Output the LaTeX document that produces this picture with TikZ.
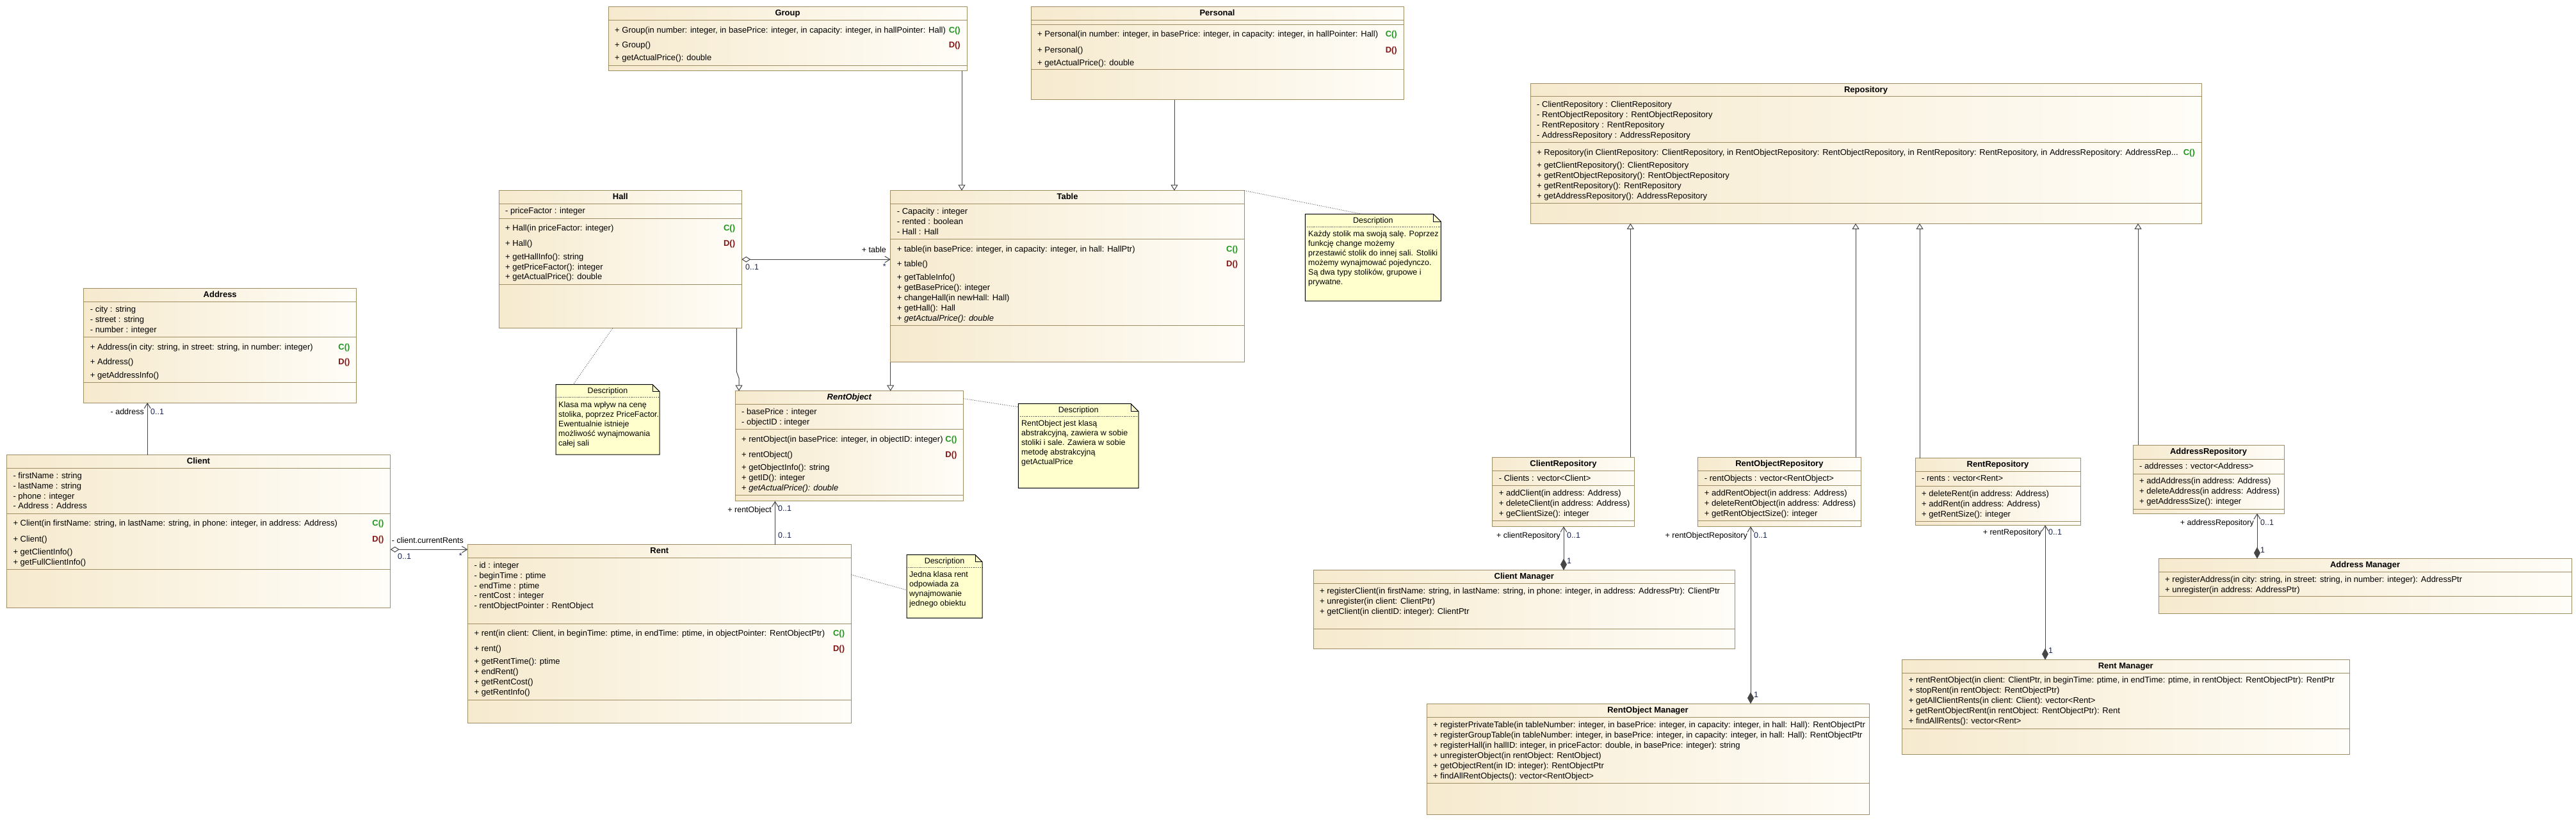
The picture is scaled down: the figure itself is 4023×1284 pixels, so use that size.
\documentclass[tikz,border=0pt]{standalone}
\usepackage{fontspec}
\setmainfont{Liberation Sans}
\usepackage{tikz}
\usetikzlibrary{arrows.meta}

\definecolor{umlborder}{RGB}{158,140,98}
\definecolor{umltan}{RGB}{246,234,206}
\definecolor{umlwhite}{RGB}{255,253,248}
\definecolor{notefill}{RGB}{255,255,206}
\definecolor{ctorgreen}{RGB}{30,150,30}
\definecolor{dtorred}{RGB}{130,20,20}
\definecolor{linegray}{RGB}{70,70,70}
\definecolor{multblue}{RGB}{25,35,75}

\tikzset{
  classbox/.style={draw=umlborder, line width=1pt, left color=umltan, right color=umlwhite, anchor=north west, inner sep=0pt, outer sep=0pt},
  sepline/.style={draw=umlborder, line width=1pt},
  ctitle/.style={inner sep=0pt, font=\bfseries\fontsize{13}{15}\selectfont, text height=9.5pt, text depth=2.5pt},
  member/.style={anchor=west, inner sep=0pt, font=\fontsize{13}{15}\selectfont, text height=9.5pt, text depth=2.5pt},
  ctor/.style={anchor=east, inner sep=0pt, font=\bfseries\fontsize{13}{15}\selectfont, text height=9.5pt, text depth=2.5pt, text=ctorgreen},
  dtor/.style={ctor, text=dtorred},
  notebox/.style={anchor=north west, inner sep=0pt, outer sep=0pt},
  notepath/.style={draw=black, fill=notefill, line width=1pt},
  notesep/.style={draw=black, dotted, line width=0.8pt},
  notetext/.style={anchor=west, inner sep=0pt, font=\fontsize{12.5}{14}\selectfont, text height=9pt, text depth=2.5pt},
  noteconn/.style={draw=linegray, dotted, line width=0.9pt},
  lbl/.style={inner sep=0pt, font=\fontsize{12.5}{14}\selectfont, text height=9pt, text depth=2.5pt},
  mult/.style={lbl, text=multblue},
  conn/.style={draw=linegray, line width=1pt},
  gen/.style={conn, -{Triangle[open, length=9pt, width=11pt, fill=white]}},
  assoc/.style={conn, -{Straight Barb[length=8pt, width=10pt]}},
  agg/.style={conn, {Diamond[open, length=14pt, width=9pt, fill=white]}-{Straight Barb[length=8pt, width=10pt]}},
  comp/.style={conn, {Diamond[length=18pt, width=10pt, fill=linegray]}-{Straight Barb[length=8pt, width=10pt]}},
}

\begin{document}
\begin{tikzpicture}[x=1pt, y=-1pt]
\fill[white] (0,0) rectangle (4023,1284);
\useasboundingbox (0,0) rectangle (4023,1284);

% Group
\node[classbox, minimum width=560, minimum height=100] (group) at (950,11) {};
\node[ctitle] (group-t) at ([yshift=-10.5pt]group.north) {Group};
\foreach \yy in {32,102.7} \draw[sepline] (950,\yy) -- (1510,\yy);
\node[member] (group-m1) at (960,47.7) {+ Group(in number: integer, in basePrice: integer, in capacity: integer, in hallPointer: Hall)};
\node[ctor] (group-c) at (1500,47.7) {C()};
\node[member] (group-m2) at (960,71) {+ Group()};
\node[dtor] (group-d) at (1500,71) {D()};
\node[member] (group-m3) at (960,91) {+ getActualPrice(): double};

% Personal
\node[classbox, minimum width=582, minimum height=145.7] (personal) at (1610,10.3) {};
\node[ctitle] (personal-t) at ([yshift=-10.5pt]personal.north) {Personal};
\foreach \yy in {31.7,38.3,109} \draw[sepline] (1610,\yy) -- (2192,\yy);
\node[member] (personal-m1) at (1620,54.3) {+ Personal(in number: integer, in basePrice: integer, in capacity: integer, in hallPointer: Hall)};
\node[ctor] (personal-c) at (2182,54.3) {C()};
\node[member] (personal-m2) at (1620,79) {+ Personal()};
\node[dtor] (personal-d) at (2182,79) {D()};
\node[member] (personal-m3) at (1620,98.7) {+ getActualPrice(): double};

% Repository
\node[classbox, minimum width=1048, minimum height=218.3] (repo) at (2390,130.7) {};
\node[ctitle] (repo-t) at ([yshift=-10.5pt]repo.north) {Repository};
\foreach \yy in {151,222.3,317.3} \draw[sepline] (2390,\yy) -- (3438,\yy);
\foreach \txt [count=\row from 0] in {{- ClientRepository : ClientRepository},{- RentObjectRepository : RentObjectRepository},{- RentRepository : RentRepository},{- AddressRepository : AddressRepository}}
  \node[member] (repo-a\row) at (2400,164.3+16*\row) {\txt};
\node[member] (repo-m0) at (2400,239.3) {+ Repository(in ClientRepository: ClientRepository, in RentObjectRepository: RentObjectRepository, in RentRepository: RentRepository, in AddressRepository: AddressRep...};
\node[ctor] (repo-c) at (3428,239.3) {C()};
\foreach \txt [count=\row from 1] in {{+ getClientRepository(): ClientRepository},{+ getRentObjectRepository(): RentObjectRepository},{+ getRentRepository(): RentRepository},{+ getAddressRepository(): AddressRepository}}
  \node[member] (repo-m\row) at (2400,243+16*\row) {\txt};

% Hall
\node[classbox, minimum width=379, minimum height=215] (hall) at (779.3,297.7) {};
\node[ctitle] (hall-t) at ([yshift=-10.5pt]hall.north) {Hall};
\foreach \yy in {318.3,341.7,444} \draw[sepline] (779.3,\yy) -- (1158.3,\yy);
\node[member] (hall-a0) at (789,330.3) {- priceFactor : integer};
\node[member] (hall-m0) at (789,357) {+ Hall(in priceFactor: integer)};
\node[ctor] (hall-c) at (1148.3,357) {C()};
\node[member] (hall-m1) at (789,381.3) {+ Hall()};
\node[dtor] (hall-d) at (1148.3,381.3) {D()};
\foreach \txt [count=\row from 2] in {{+ getHallInfo(): string},{+ getPriceFactor(): integer},{+ getActualPrice(): double}}
  \node[member] (hall-m\row) at (789,370.5+15.7*\row) {\txt};

% Table
\node[classbox, minimum width=552.7, minimum height=268] (table) at (1390.7,297.7) {};
\node[ctitle] (table-t) at ([yshift=-10.5pt]table.north) {Table};
\foreach \yy in {318.3,373.7,508.3} \draw[sepline] (1390.7,\yy) -- (1943.4,\yy);
\foreach \txt [count=\row from 0] in {{- Capacity : integer},{- rented : boolean},{- Hall : Hall}}
  \node[member] (table-a\row) at (1400.7,330.7+16*\row) {\txt};
\node[member] (table-m0) at (1400.7,390) {+ table(in basePrice: integer, in capacity: integer, in hall: HallPtr)};
\node[ctor] (table-c) at (1933.4,390) {C()};
\node[member] (table-m1) at (1400.7,413.3) {+ table()};
\node[dtor] (table-d) at (1933.4,413.3) {D()};
\foreach \txt [count=\row from 2] in {{+ getTableInfo()},{+ getBasePrice(): integer},{+ changeHall(in newHall: Hall)},{+ getHall(): Hall},{+ \textit{getActualPrice(): double}}}
  \node[member] (table-m\row) at (1400.7,401.7+16*\row) {\txt};

% Table note
\node[notebox, minimum width=212.1, minimum height=135.7] (tnote) at (2038.3,334.3) {};
\draw[notepath] (tnote.north west) -- ([xshift=-12pt]tnote.north east) -- ([yshift=-12pt]tnote.north east) -- (tnote.south east) -- (tnote.south west) -- cycle;
\draw[notepath, fill=none] ([xshift=-12pt]tnote.north east) |- ([yshift=-12pt]tnote.north east);
\node[lbl] (tnote-t) at ([yshift=-10.5pt]tnote.north) {Description};
\draw[notesep] (2038.3,354.3) -- (2250.4,354.3);
\foreach \txt [count=\row from 0] in {{Każdy stolik ma swoją salę. Poprzez},{funkcję change możemy},{przestawić stolik do innej sali. Stoliki},{możemy wynajmować pojedynczo.},{Są dwa typy stolików, grupowe i},{prywatne.}}
  \node[notetext] (tnote-l\row) at (2043,366.7+15*\row) {\txt};

% Address
\node[classbox, minimum width=426, minimum height=178.3] (address) at (130.7,450.7) {};
\node[ctitle] (address-t) at ([yshift=-10.5pt]address.north) {Address};
\foreach \yy in {471.7,526.7,597.3} \draw[sepline] (130.7,\yy) -- (556.7,\yy);
\foreach \txt [count=\row from 0] in {{- city : string},{- street : string},{- number : integer}}
  \node[member] (address-a\row) at (140.7,484+16*\row) {\txt};
\node[member] (address-m0) at (140.7,543) {+ Address(in city: string, in street: string, in number: integer)};
\node[ctor] (address-c) at (546.7,543) {C()};
\node[member] (address-m1) at (140.7,566.3) {+ Address()};
\node[dtor] (address-d) at (546.7,566.3) {D()};
\node[member] (address-m2) at (140.7,587.3) {+ getAddressInfo()};

% Client
\node[classbox, minimum width=599.4, minimum height=238.3] (client) at (10.3,710.7) {};
\node[ctitle] (client-t) at ([yshift=-10.5pt]client.north) {Client};
\foreach \yy in {731.7,802.3,889.3} \draw[sepline] (10.3,\yy) -- (609.7,\yy);
\foreach \txt [count=\row from 0] in {{- firstName : string},{- lastName : string},{- phone : integer},{- Address : Address}}
  \node[member] (client-a\row) at (20.3,743.7+15.9*\row) {\txt};
\node[member] (client-m0) at (20.3,818.3) {+ Client(in firstName: string, in lastName: string, in phone: integer, in address: Address)};
\node[ctor] (client-c) at (599.7,818.3) {C()};
\node[member] (client-m1) at (20.3,842.7) {+ Client()};
\node[dtor] (client-d) at (599.7,842.7) {D()};
\foreach \txt [count=\row from 2] in {{+ getClientInfo()},{+ getFullClientInfo()}}
  \node[member] (client-m\row) at (20.3,831+16*\row) {\txt};

% RentObject
\node[classbox, minimum width=356.7, minimum height=172] (robj) at (1148,610.7) {};
\node[ctitle] (robj-t) at ([yshift=-10.5pt]robj.north) {\itshape RentObject};
\foreach \yy in {631.7,670.7,773.3} \draw[sepline] (1148,\yy) -- (1504.7,\yy);
\foreach \txt [count=\row from 0] in {{- basePrice : integer},{- objectID : integer}}
  \node[member] (robj-a\row) at (1158,643.7+16*\row) {\txt};
\node[member] (robj-m0) at (1158,687) {+ rentObject(in basePrice: integer, in objectID: integer)};
\node[ctor] (robj-c) at (1494.7,687) {C()};
\node[member] (robj-m1) at (1158,710.7) {+ rentObject()};
\node[dtor] (robj-d) at (1494.7,710.7) {D()};
\foreach \txt [count=\row from 2] in {{+ getObjectInfo(): string},{+ getID(): integer},{+ \textit{getActualPrice(): double}}}
  \node[member] (robj-m\row) at (1158,698.7+16*\row) {\txt};

% Hall note
\node[notebox, minimum width=162, minimum height=109.3] (hnote) at (868,600.7) {};
\draw[notepath] (hnote.north west) -- ([xshift=-11pt]hnote.north east) -- ([yshift=-11pt]hnote.north east) -- (hnote.south east) -- (hnote.south west) -- cycle;
\draw[notepath, fill=none] ([xshift=-11pt]hnote.north east) |- ([yshift=-11pt]hnote.north east);
\node[lbl] (hnote-t) at ([yshift=-10.5pt]hnote.north) {Description};
\draw[notesep] (868,620.7) -- (1030,620.7);
\foreach \txt [count=\row from 0] in {{Klasa ma wpływ na cenę},{stolika, poprzez PriceFactor.},{Ewentualnie istnieje},{możliwość wynajmowania},{całej sali}}
  \node[notetext] (hnote-l\row) at (872,633+15*\row) {\txt};

% RentObject note
\node[notebox, minimum width=187.6, minimum height=131.6] (onote) at (1590.4,630.7) {};
\draw[notepath] (onote.north west) -- ([xshift=-12pt]onote.north east) -- ([yshift=-12pt]onote.north east) -- (onote.south east) -- (onote.south west) -- cycle;
\draw[notepath, fill=none] ([xshift=-12pt]onote.north east) |- ([yshift=-12pt]onote.north east);
\node[lbl] (onote-t) at ([yshift=-10.5pt]onote.north) {Description};
\draw[notesep] (1590.4,650.7) -- (1778,650.7);
\foreach \txt [count=\row from 0] in {{RentObject jest klasą},{abstrakcyjną, zawiera w sobie},{stoliki i sale. Zawiera w sobie},{metodę abstrakcyjną},{getActualPrice}}
  \node[notetext] (onote-l\row) at (1595,662.7+15*\row) {\txt};

% Rent
\node[classbox, minimum width=598.9, minimum height=278.6] (rent) at (730.4,850.7) {};
\node[ctitle] (rent-t) at ([yshift=-10.5pt]rent.north) {Rent};
\foreach \yy in {871.7,974.7,1093.3} \draw[sepline] (730.4,\yy) -- (1329.3,\yy);
\foreach \txt [count=\row from 0] in {{- id : integer},{- beginTime : ptime},{- endTime : ptime},{- rentCost : integer},{- rentObjectPointer : RentObject}}
  \node[member] (rent-a\row) at (740.4,883.7+15.9*\row) {\txt};
\node[member] (rent-m0) at (740.4,990.3) {+ rent(in client: Client, in beginTime: ptime, in endTime: ptime, in objectPointer: RentObjectPtr)};
\node[ctor] (rent-c) at (1319.3,990.3) {C()};
\node[member] (rent-m1) at (740.4,1014.3) {+ rent()};
\node[dtor] (rent-d) at (1319.3,1014.3) {D()};
\foreach \txt [count=\row from 2] in {{+ getRentTime(): ptime},{+ endRent()},{+ getRentCost()},{+ getRentInfo()}}
  \node[member] (rent-m\row) at (740.4,1002.3+16*\row) {\txt};

% Rent note
\node[notebox, minimum width=118, minimum height=98.6] (rnote) at (1416,866.7) {};
\draw[notepath] (rnote.north west) -- ([xshift=-11pt]rnote.north east) -- ([yshift=-11pt]rnote.north east) -- (rnote.south east) -- (rnote.south west) -- cycle;
\draw[notepath, fill=none] ([xshift=-11pt]rnote.north east) |- ([yshift=-11pt]rnote.north east);
\node[lbl] (rnote-t) at ([yshift=-10.5pt]rnote.north) {Description};
\draw[notesep] (1416,886.3) -- (1534,886.3);
\foreach \txt [count=\row from 0] in {{Jedna klasa rent},{odpowiada za},{wynajmowanie},{jednego obiektu}}
  \node[notetext] (rnote-l\row) at (1420,898.7+15*\row) {\txt};

% ClientRepository
\node[classbox, minimum width=221.7, minimum height=108] (crepo) at (2330.6,714.3) {};
\node[ctitle] (crepo-t) at ([yshift=-10.5pt]crepo.north) {ClientRepository};
\foreach \yy in {735.7,758,813.3} \draw[sepline] (2330.6,\yy) -- (2552.3,\yy);
\node[member] (crepo-a0) at (2340.6,747.7) {- Clients : vector<Client>};
\foreach \txt [count=\row from 0] in {{+ addClient(in address: Address)},{+ deleteClient(in address: Address)},{+ geClientSize(): integer}}
  \node[member] (crepo-m\row) at (2340.6,771+16*\row) {\txt};

% RentObjectRepository
\node[classbox, minimum width=254.3, minimum height=108] (orepo) at (2651.7,714.3) {};
\node[ctitle] (orepo-t) at ([yshift=-10.5pt]orepo.north) {RentObjectRepository};
\foreach \yy in {735.7,758,813.3} \draw[sepline] (2651.7,\yy) -- (2906,\yy);
\node[member] (orepo-a0) at (2661.7,747.7) {- rentObjects : vector<RentObject>};
\foreach \txt [count=\row from 0] in {{+ addRentObject(in address: Address)},{+ deleteRentObject(in address: Address)},{+ getRentObjectSize(): integer}}
  \node[member] (orepo-m\row) at (2661.7,771+16*\row) {\txt};

% RentRepository
\node[classbox, minimum width=258, minimum height=104.6] (rrepo) at (2991,715.7) {};
\node[ctitle] (rrepo-t) at ([yshift=-10.5pt]rrepo.north) {RentRepository};
\foreach \yy in {736.7,759,814.3} \draw[sepline] (2991,\yy) -- (3249,\yy);
\node[member] (rrepo-a0) at (3001,748.3) {- rents : vector<Rent>};
\foreach \txt [count=\row from 0] in {{+ deleteRent(in address: Address)},{+ addRent(in address: Address)},{+ getRentSize(): integer}}
  \node[member] (rrepo-m\row) at (3001,771.7+16*\row) {\txt};

% AddressRepository
\node[classbox, minimum width=236, minimum height=107] (arepo) at (3331,695) {};
\node[ctitle] (arepo-t) at ([yshift=-10.5pt]arepo.north) {AddressRepository};
\foreach \yy in {717,740,795} \draw[sepline] (3331,\yy) -- (3567,\yy);
\node[member] (arepo-a0) at (3341,729.3) {- addresses : vector<Address>};
\foreach \txt [count=\row from 0] in {{+ addAddress(in address: Address)},{+ deleteAddress(in address: Address)},{+ getAddressSize(): integer}}
  \node[member] (arepo-m\row) at (3341,752+16*\row) {\txt};

% Client Manager
\node[classbox, minimum width=658.4, minimum height=122.6] (cman) at (2051,890.7) {};
\node[ctitle] (cman-t) at ([yshift=-10.5pt]cman.north) {Client Manager};
\foreach \yy in {911.7,982.3} \draw[sepline] (2051,\yy) -- (2709.4,\yy);
\foreach \txt [count=\row from 0] in {{+ registerClient(in firstName: string, in lastName: string, in phone: integer, in address: AddressPtr): ClientPtr},{+ unregister(in client: ClientPtr)},{+ getClient(in clientID: integer): ClientPtr}}
  \node[member] (cman-m\row) at (2061,924+16*\row) {\txt};

% Address Manager
\node[classbox, minimum width=645, minimum height=85.6] (aman) at (3371,872.7) {};
\node[ctitle] (aman-t) at ([yshift=-10.5pt]aman.north) {Address Manager};
\foreach \yy in {893.3,931.7} \draw[sepline] (3371,\yy) -- (4016,\yy);
\foreach \txt [count=\row from 0] in {{+ registerAddress(in city: string, in street: string, in number: integer): AddressPtr},{+ unregister(in address: AddressPtr)}}
  \node[member] (aman-m\row) at (3381,906+16*\row) {\txt};

% RentObject Manager
\node[classbox, minimum width=691, minimum height=173.4] (oman) at (2228,1099.3) {};
\node[ctitle] (oman-t) at ([yshift=-10.5pt]oman.north) {RentObject Manager};
\foreach \yy in {1120.3,1223.3} \draw[sepline] (2228,\yy) -- (2919,\yy);
\foreach \txt [count=\row from 0] in {{+ registerPrivateTable(in tableNumber: integer, in basePrice: integer, in capacity: integer, in hall: Hall): RentObjectPtr},{+ registerGroupTable(in tableNumber: integer, in basePrice: integer, in capacity: integer, in hall: Hall): RentObjectPtr},{+ registerHall(in hallID: integer, in priceFactor: double, in basePrice: integer): string},{+ unregisterObject(in rentObject: RentObject)},{+ getObjectRent(in ID: integer): RentObjectPtr},{+ findAllRentObjects(): vector<RentObject>}}
  \node[member] (oman-m\row) at (2238,1132.7+16*\row) {\txt};

% Rent Manager
\node[classbox, minimum width=698.4, minimum height=147.6] (rman) at (2970.6,1030.7) {};
\node[ctitle] (rman-t) at ([yshift=-10.5pt]rman.north) {Rent Manager};
\foreach \yy in {1051.7,1138.3} \draw[sepline] (2970.6,\yy) -- (3669,\yy);
\foreach \txt [count=\row from 0] in {{+ rentRentObject(in client: ClientPtr, in beginTime: ptime, in endTime: ptime, in rentObject: RentObjectPtr): RentPtr},{+ stopRent(in rentObject: RentObjectPtr)},{+ getAllClientRents(in client: Client): vector<Rent>},{+ getRentObjectRent(in rentObject: RentObjectPtr): Rent},{+ findAllRents(): vector<Rent>}}
  \node[member] (rman-m\row) at (2980.6,1063.3+16*\row) {\txt};

% generalisations
\coordinate (g1) at ([xshift=-8pt]group.south east);
\draw[gen] (g1) -- (g1 |- table.north);
\coordinate (p1) at ([xshift=224pt]personal.south west);
\draw[gen] (p1) -- (p1 |- table.north);
\draw[gen] ([xshift=-8pt]hall.south east) -- ++(0,68) -- ([xshift=6pt,yshift=20pt]robj.north west) -- ([xshift=6pt]robj.north west);
\draw[gen] (table.south west) -- (table.south west |- robj.north);
\coordinate (r1) at ([xshift=-6pt]crepo.north east);
\coordinate (r2) at ([xshift=-8pt]orepo.north east);
\coordinate (r3) at ([xshift=7pt]rrepo.north west);
\coordinate (r4) at ([xshift=8pt]arepo.north west);
\foreach \c in {r1,r2,r3,r4} \draw[gen] (\c) -- (\c |- repo.south);

% associations
\draw[agg] (hall.east) -- (hall.east -| table.west);
\coordinate (c1) at ([yshift=-147.6pt]client.north east);
\draw[agg] (c1) -- (c1 -| rent.west);
\coordinate (a1) at ([xshift=220pt]client.north west);
\draw[assoc] (a1) -- (a1 |- address.south);
\coordinate (o1) at ([xshift=480pt]rent.north west);
\draw[assoc] (o1) -- (o1 |- robj.south);

% compositions
\coordinate (m1) at ([xshift=391pt]cman.north west);
\coordinate (m2) at ([xshift=506pt]oman.north west);
\coordinate (m3) at ([xshift=223.4pt]rman.north west);
\coordinate (m4) at ([xshift=154pt]aman.north west);
\draw[comp] (m1) -- (m1 |- crepo.south);
\draw[comp] (m2) -- (m2 |- orepo.south);
\draw[comp] (m3) -- (m3 |- rrepo.south);
\draw[comp] (m4) -- (m4 |- arepo.south);

% note links
\draw[noteconn] (table.north east) -- ([xshift=-18pt]tnote.north);
\draw[noteconn] ([xshift=-12pt]hall.south) -- ([xshift=27pt]hnote.north west);
\draw[noteconn] ([yshift=-12pt]robj.north east) -- ([yshift=-5pt]onote.north west);
\draw[noteconn] ([yshift=-47pt]rent.north east) -- ([yshift=-55pt]rnote.north west);

% roles and multiplicities
\node[mult, anchor=west] (hall-mul) at (1164,418) {0..1};
\node[lbl, anchor=east] (table-role) at (1384,391) {+ table};
\node[mult, anchor=east] (table-mul) at (1384,417) {*};
\node[lbl, anchor=east] (rent-role) at (724,845) {- client.currentRents};
\node[mult, anchor=east] (rent-mul) at (722,869) {*};
\node[mult, anchor=west] (client-mul) at (621,870) {0..1};
\node[lbl, anchor=east] (address-role) at (225,644) {- address};
\node[mult, anchor=west] (address-mul) at (235,644) {0..1};
\node[lbl, anchor=east] (robj-role) at (1205,797) {+ rentObject};
\node[mult, anchor=west] (robj-mul) at (1215,795) {0..1};
\node[mult, anchor=west] (rentside-mul) at (1215,837) {0..1};
\node[lbl, anchor=east] (crepo-role) at (2437,837) {+ clientRepository};
\node[mult, anchor=west] (crepo-mul) at (2447,837) {0..1};
\node[mult, anchor=west] (cman-mul) at (2447,877) {1};
\node[lbl, anchor=east] (orepo-role) at (2729,837) {+ rentObjectRepository};
\node[mult, anchor=west] (orepo-mul) at (2739,837) {0..1};
\node[mult, anchor=west] (oman-mul) at (2739,1086) {1};
\node[lbl, anchor=east] (rrepo-role) at (3189,832) {+ rentRepository};
\node[mult, anchor=west] (rrepo-mul) at (3199,832) {0..1};
\node[mult, anchor=west] (rman-mul) at (3199,1017) {1};
\node[lbl, anchor=east] (arepo-role) at (3520,817) {+ addressRepository};
\node[mult, anchor=west] (arepo-mul) at (3530,817) {0..1};
\node[mult, anchor=west] (aman-mul) at (3530,860) {1};
\end{tikzpicture}
\end{document}
